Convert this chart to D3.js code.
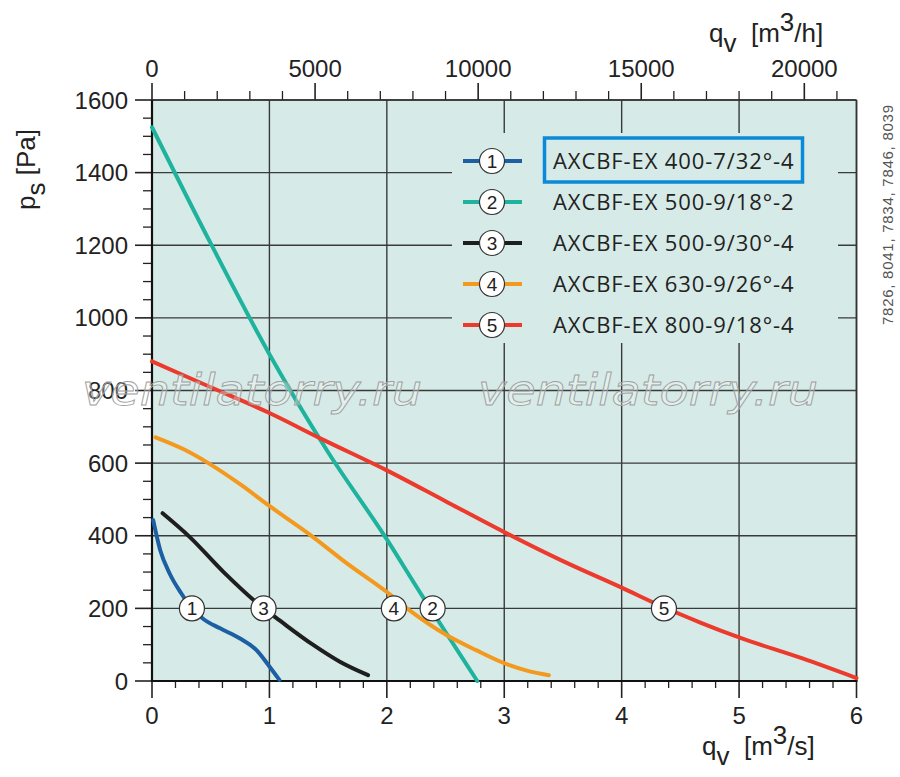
<!DOCTYPE html>
<html><head><meta charset="utf-8">
<script src="https://cdn.jsdelivr.net/npm/d3@7/dist/d3.min.js"></script>
<style>body{margin:0;background:#fff}svg{display:block}</style>
</head><body><svg id="c" width="900" height="777"></svg>
<script>
// ---- data ----
const xTicksMain = [0,1,2,3,4,5,6];
const yTicksMain = [0,200,400,600,800,1000,1200,1400,1600];
const topTicksMain = [0,5000,10000,15000,20000];
const curveNames = ["AXCBF-EX 400-7/32°-4","AXCBF-EX 500-9/18°-2","AXCBF-EX 500-9/30°-4","AXCBF-EX 630-9/26°-4","AXCBF-EX 800-9/18°-4"];
const curveColors = ["#1d5fa3","#1fb39e","#1e1e1e","#f39a1e","#ec3a2c"];
const curve1 = [[0.01,443],[0.07,360],[0.15,296],[0.25,241],[0.34,200],[0.44,170],[0.58,145],[0.75,117],[0.89,85],[1.0,40],[1.085,3]];
const curve2 = [[0,1525],[0.5,1205],[1.0,900],[1.5,630],[2.0,390],[2.3,235],[2.5,135],[2.77,0]];
const curve3 = [[0.09,462],[0.32,397],[0.61,300],[0.95,200],[1.09,166],[1.37,100],[1.6,53],[1.84,16]];
const curve4 = [[0.03,671],[0.27,638],[0.49,598],[0.75,542],[1.0,482],[1.35,402],[1.66,324],[2.0,245],[2.2,193],[2.5,128],[2.76,85],[3.0,49],[3.2,28],[3.38,16]];
const curve5 = [[0,880],[0.5,809],[1.0,738],[1.46,664],[2.0,580],[2.5,495],[3.0,410],[3.5,330],[4.0,257],[4.36,203],[4.67,161],[5.0,120],[5.54,62],[6.0,8]];
const curves = [curve1,curve2,curve3,curve4,curve5];
const labelX = [0.34,2.39,0.95,2.06,4.36];
const labelY = [200,200,200,200,200];
const sideNote = "7826, 8041, 7834, 7846, 8039";
const watermark = "ventilatorry.ru";

// ---- scales ----
const svg = d3.select("#c");
const L=152,R=856.5,T=100,B=681;
const x = d3.scaleLinear().domain([0,6]).range([L,R]);
const xTop = d3.scaleLinear().domain([0,21600]).range([L,R]);
const y = d3.scaleLinear().domain([0,1600]).range([B,T]);
const numFont = "'Liberation Sans', Arial, sans-serif";

// background
svg.append("rect").attr("x",L).attr("y",T).attr("width",R-L).attr("height",B-T).attr("fill","#d6ebe7");

// grid
const g = svg.append("g").attr("stroke","#3a3a3a").attr("stroke-width",1.4);
yTicksMain.forEach(v=>g.append("line").attr("x1",L).attr("x2",R).attr("y1",y(v)).attr("y2",y(v)));
xTicksMain.forEach(v=>g.append("line").attr("y1",T).attr("y2",B).attr("x1",x(v)).attr("x2",x(v)));

// legend background covering grid
svg.append("rect").attr("x",452).attr("y",133).attr("width",386).attr("height",210).attr("fill","#d6ebe7");

// axes ticks
const ax = svg.append("g").attr("stroke","#222");
d3.range(0,1601,50).forEach(v=>{
  const major = v%200===0;
  ax.append("line").attr("x1",major?135:143).attr("x2",L).attr("y1",y(v)).attr("y2",y(v)).attr("stroke-width",major?1.6:1.3);
});
d3.range(0,6.001,0.2).forEach(v=>{
  const major = Math.abs(v-Math.round(v))<1e-6;
  ax.append("line").attr("x1",x(v)).attr("x2",x(v)).attr("y1",B).attr("y2",major?698:688).attr("stroke-width",major?1.6:1.3);
});
d3.range(0,21001,1000).forEach(v=>{
  const major = v%5000===0;
  ax.append("line").attr("x1",xTop(v)).attr("x2",xTop(v)).attr("y1",T).attr("y2",major?83:91).attr("stroke-width",major?1.6:1.3);
});
// frame
svg.append("line").attr("x1",L).attr("x2",R).attr("y1",T).attr("y2",T).attr("stroke","#333").attr("stroke-width",1.6);
svg.append("line").attr("x1",R).attr("x2",R).attr("y1",T).attr("y2",B).attr("stroke","#333").attr("stroke-width",1.6);
svg.append("line").attr("x1",L).attr("x2",L).attr("y1",T).attr("y2",B+1).attr("stroke","#111").attr("stroke-width",2.2);
svg.append("line").attr("x1",L-1).attr("x2",R+1).attr("y1",B).attr("y2",B).attr("stroke","#111").attr("stroke-width",2.2);

// tick labels
const tl = svg.append("g").attr("font-family",numFont).attr("font-size",24).attr("fill","#222");
yTicksMain.forEach(v=>tl.append("text").attr("x",128).attr("y",y(v)+8.5).attr("text-anchor","end").text(v));
xTicksMain.forEach(v=>tl.append("text").attr("x",x(v)).attr("y",724).attr("text-anchor","middle").text(v));
topTicksMain.forEach(v=>tl.append("text").attr("x",xTop(v)).attr("y",77).attr("text-anchor","middle").text(v));

// curves
const line = d3.line().x(d=>x(d[0])).y(d=>y(d[1])).curve(d3.curveMonotoneX);
curves.forEach((c,i)=>svg.append("path").attr("d",line(c)).attr("fill","none").attr("stroke",curveColors[i]).attr("stroke-width",4).attr("stroke-linecap","round"));

// watermarks
[82,478].forEach(wx=>svg.append("text").attr("x",wx).attr("y",405).attr("font-family","'DejaVu Sans', sans-serif").attr("font-style","italic").attr("font-size",43).attr("fill","rgba(255,255,255,0.3)").attr("stroke","#a0a0a0").attr("stroke-width",0.9).attr("textLength",340).attr("lengthAdjust","spacingAndGlyphs").text(watermark));

// curve labels
function badge(cx,cy,n){
  svg.append("circle").attr("cx",cx).attr("cy",cy).attr("r",12.5).attr("fill","#fff").attr("stroke","#333").attr("stroke-width",1.2);
  svg.append("text").attr("x",cx).attr("y",cy+7).attr("text-anchor","middle").attr("font-family",numFont).attr("font-size",19).attr("fill","#222").text(n);
}
labelX.forEach((v,i)=>badge(x(v),y(labelY[i]),i+1));

// legend
curveNames.forEach((name,i)=>{
  const yy = 161 + i*41;
  svg.append("line").attr("x1",463).attr("x2",522).attr("y1",yy).attr("y2",yy).attr("stroke",curveColors[i]).attr("stroke-width",4);
  badge(492,yy,i+1);
  svg.append("text").attr("x",553).attr("y",yy+8).attr("font-family","'Open Sans', sans-serif").attr("font-size",22).attr("letter-spacing",0.9).attr("fill","#222").text(name);
});
svg.append("rect").attr("x",544.5).attr("y",138).attr("width",258).attr("height",44).attr("fill","none").attr("stroke","#0a8ad8").attr("stroke-width",3.5);

// axis titles
const tf = {"font-family":numFont,"font-size":26,"fill":"#222"};
function title(sel,parts){
  const t = sel.append("text");
  Object.entries(tf).forEach(([k,v])=>t.attr(k,v));
  parts.forEach(p=>{const s=t.append("tspan").text(p.t); if(p.dy) s.attr("dy",p.dy); if(p.fs) s.attr("font-size",p.fs);});
  return t;
}
title(svg,[{t:"q"},{t:"v",dy:10},{t:"  [m",dy:-10},{t:"3",dy:-11},{t:"/h]",dy:11}]).attr("x",709).attr("y",42).attr("xml:space","preserve");
title(svg,[{t:"q"},{t:"v",dy:10},{t:"  [m",dy:-10},{t:"3",dy:-11},{t:"/s]",dy:11}]).attr("x",702).attr("y",755).attr("xml:space","preserve");
title(svg,[{t:"p"},{t:"s",dy:10},{t:" [Pa]",dy:-10}]).attr("transform","translate(35,210) rotate(-90)").attr("xml:space","preserve");

// side note
svg.append("text").attr("transform","translate(893,325) rotate(-90)").attr("font-family",numFont).attr("font-size",15).attr("fill","#555").attr("textLength",220).text(sideNote);
</script></body></html>
